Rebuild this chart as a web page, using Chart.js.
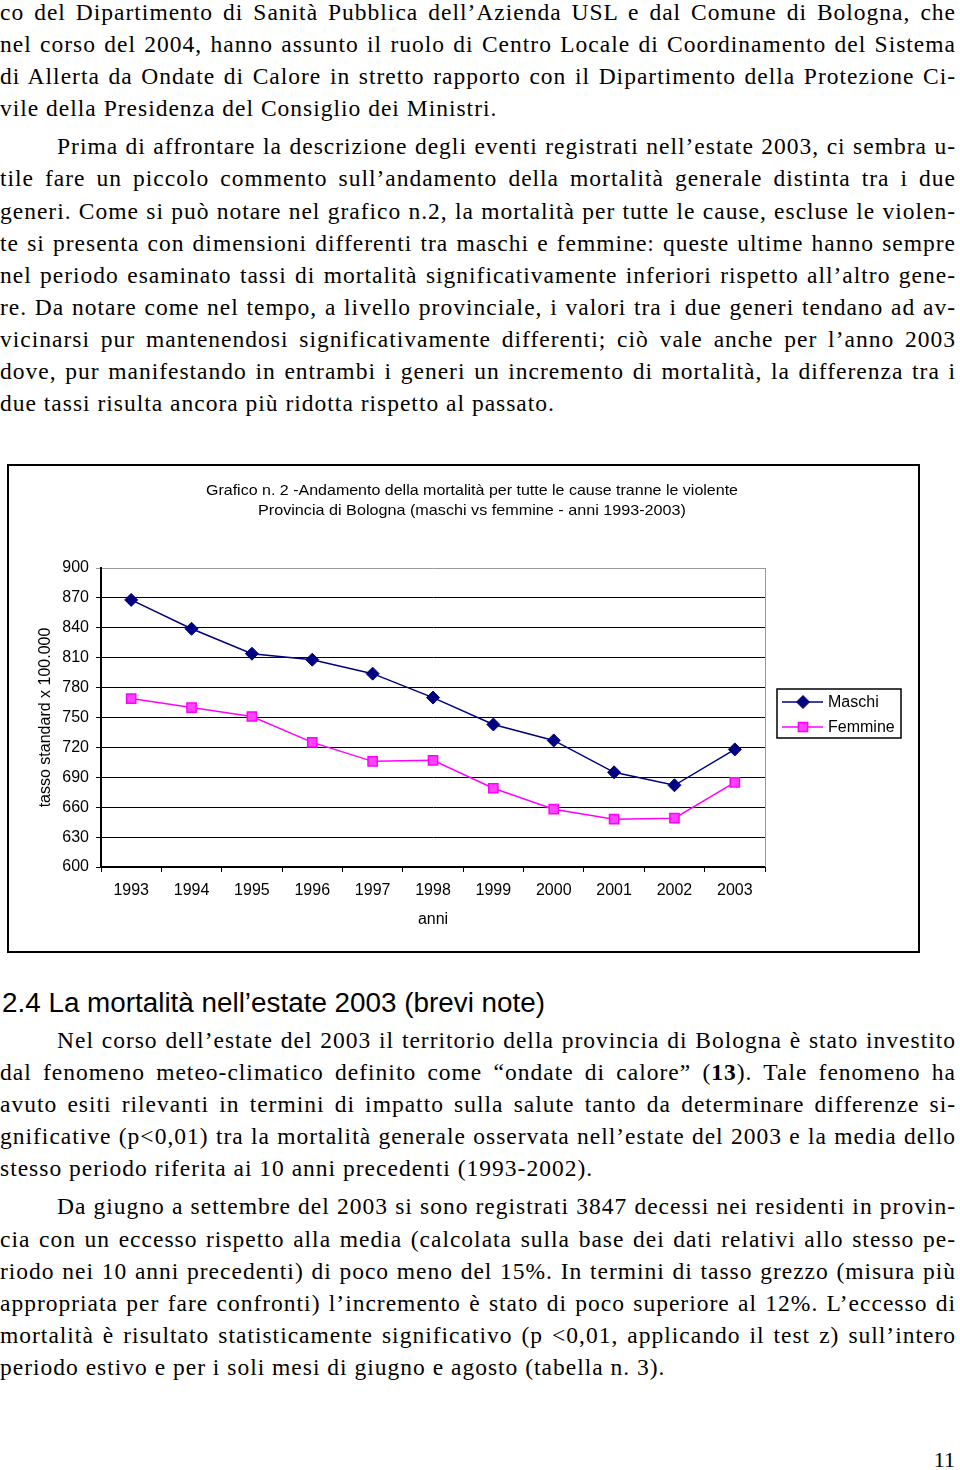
<!DOCTYPE html>
<html lang="it">
<head>
<meta charset="utf-8">
<title>Grafico n. 2 - mortalità maschi vs femmine</title>
<script src="https://cdn.jsdelivr.net/npm/chart.js@4.4.0/dist/chart.umd.min.js"></script>
<style>
  html, body { margin: 0; padding: 0; background: #fff; }
  body { width: 960px; height: 1470px; position: relative; overflow: hidden;
         font-family: "Liberation Serif", serif; font-size: 23.5px; color: #000; }
  .blk { position: absolute; left: 0; width: 956px; line-height: 32.1px; letter-spacing: 1px; }
  .l { text-align: justify; text-align-last: justify; }
  .last { text-align-last: left; }
  .ind { padding-left: 57px; }
  .gap { margin-top: 6px; }
  .misura { position: absolute; visibility: hidden; white-space: nowrap; }
  .sans { position: absolute; font-family: "Liberation Sans", Arial, sans-serif;
          white-space: nowrap; transform-origin: left center; display: inline-block; }
  #cornice { position: absolute; left: 7px; top: 464px; width: 913px; height: 489px;
             border: 2px solid #000; box-sizing: border-box; }
  #grafico { position: absolute; left: 0; top: 0; }
  #pag { position: absolute; right: 5px; top: 1446px; font-size: 22px; line-height: 28px; }
</style>
</head>
<body>

<div class="blk" style="top:-4px">
  <div class="l">co del Dipartimento di Sanità Pubblica dell’Azienda USL e dal Comune di Bologna, che</div>
  <div class="l">nel corso del 2004, hanno assunto il ruolo di Centro Locale di Coordinamento del Sistema</div>
  <div class="l">di Allerta da Ondate di Calore in stretto rapporto con il Dipartimento della Protezione Ci-</div>
  <div class="l last">vile della Presidenza del Consiglio dei Ministri.</div>
  <div class="l ind gap">Prima di affrontare la descrizione degli eventi registrati nell’estate 2003, ci sembra u-</div>
  <div class="l">tile fare un piccolo commento sull’andamento della mortalità generale distinta tra i due</div>
  <div class="l">generi. Come si può notare nel grafico n.2, la mortalità per tutte le cause, escluse le violen-</div>
  <div class="l">te si presenta con dimensioni differenti tra maschi e femmine: queste ultime hanno sempre</div>
  <div class="l">nel periodo esaminato tassi di mortalità significativamente inferiori rispetto all’altro gene-</div>
  <div class="l">re. Da notare come nel tempo, a livello provinciale, i valori tra i due generi tendano ad av-</div>
  <div class="l">vicinarsi pur mantenendosi significativamente differenti; ciò vale anche per l’anno 2003</div>
  <div class="l">dove, pur manifestando in entrambi i generi un incremento di mortalità, la differenza tra i</div>
  <div class="l last">due tassi risulta ancora più ridotta rispetto al passato.</div>
  <span class="misura"></span>
</div>

<div id="cornice">
  <canvas id="grafico" width="909" height="485"></canvas>
</div>
<span class="sans" data-w="532" style="left:206px; top:480px; font-size:15px; line-height:20px;">Grafico n. 2 -Andamento della mortalità per tutte le cause tranne le violente</span>
<span class="sans" data-w="428" style="left:258px; top:500px; font-size:15px; line-height:20px;">Provincia di Bologna (maschi vs femmine - anni 1993-2003)</span>

<span class="sans" data-w="543" style="left:2px; top:987px; font-size:27px; line-height:32px;">2.4 La mortalità nell’estate 2003 (brevi note)</span>

<div class="blk" style="top:1024px">
  <div class="l ind">Nel corso dell’estate del 2003 il territorio della provincia di Bologna è stato investito</div>
  <div class="l">dal fenomeno meteo-climatico definito come “ondate di calore” (<b>13</b>). Tale fenomeno ha</div>
  <div class="l">avuto esiti rilevanti in termini di impatto sulla salute tanto da determinare differenze si-</div>
  <div class="l">gnificative (p&lt;0,01) tra la mortalità generale osservata nell’estate del 2003 e la media dello</div>
  <div class="l last">stesso periodo riferita ai 10 anni precedenti (1993-2002).</div>
  <div class="l ind gap">Da giugno a settembre del 2003 si sono registrati 3847 decessi nei residenti in provin-</div>
  <div class="l">cia con un eccesso rispetto alla media (calcolata sulla base dei dati relativi allo stesso pe-</div>
  <div class="l">riodo nei 10 anni precedenti) di poco meno del 15%. In termini di tasso grezzo (misura più</div>
  <div class="l">appropriata per fare confronti) l’incremento è stato di poco superiore al 12%. L’eccesso di</div>
  <div class="l">mortalità è risultato statisticamente significativo (p &lt;0,01, applicando il test z) sull’intero</div>
  <div class="l last">periodo estivo e per i soli mesi di giugno e agosto (tabella n. 3).</div>
  <span class="misura"></span>
</div>

<div id="pag">11</div>

<script>
const anni = ['1993', '1994', '1995', '1996', '1997', '1998', '1999', '2000', '2001', '2002', '2003'];
const maschi = [868, 839, 814, 808, 794, 770, 743, 727, 695, 682, 718];
const femmine = [769, 760, 751, 725, 706, 707, 679, 658, 648, 649, 685];
const yMin = 600;
const yMax = 900;
const yPasso = 30;

// le righe troppo lunghe perdono un po' di spaziatura, cosi' non vanno a capo
document.querySelectorAll('.blk').forEach((blocco) => {
    const misura = blocco.querySelector('.misura');
    blocco.querySelectorAll('.l').forEach((riga) => {
        misura.innerHTML = riga.innerHTML;
        const libero = riga.clientWidth - parseFloat(getComputedStyle(riga).paddingLeft) - 3;
        const w = misura.getBoundingClientRect().width;
        if (w > libero) {
            const n = riga.textContent.trim().length;
            riga.style.letterSpacing = (1 - (w - libero) / n) + 'px';
        }
    });
    misura.innerHTML = '';
});

// stringo i titoli in sans alla larghezza dell'originale
document.querySelectorAll('[data-w]').forEach((el) => {
    const w = el.getBoundingClientRect().width;
    el.style.transform = `scaleX(${el.dataset.w / w})`;
});

const font16 = { family: 'Liberation Sans', size: 16 };

// bordo grigio a destra dell'area del grafico
const bordoDestro = {
    id: 'bordoDestro',
    beforeDatasetsDraw(chart) {
        const { ctx, chartArea } = chart;
        ctx.save();
        ctx.strokeStyle = '#999';
        ctx.lineWidth = 1;
        ctx.beginPath();
        ctx.moveTo(Math.round(chartArea.right) + 0.5, chartArea.top);
        ctx.lineTo(Math.round(chartArea.right) + 0.5, chartArea.bottom);
        ctx.stroke();
        ctx.restore();
    }
};

// legenda con riquadro come nell'originale
const legenda = {
    id: 'legenda',
    afterDraw(chart) {
        const ctx = chart.ctx;
        const x = chart.chartArea.right + 12;
        const y = 223;
        ctx.save();
        ctx.strokeStyle = '#000';
        ctx.lineWidth = 1.5;
        ctx.strokeRect(x, y, 124, 49);
        chart.data.datasets.forEach((ds, i) => {
            const cy = y + 13 + i * 25;
            ctx.strokeStyle = ds.borderColor;
            ctx.lineWidth = ds.borderWidth;
            ctx.beginPath();
            ctx.moveTo(x + 5, cy);
            ctx.lineTo(x + 46, cy);
            ctx.stroke();
            ctx.fillStyle = ds.backgroundColor;
            ctx.lineWidth = ds.pointBorderWidth;
            Chart.helpers.drawPoint(ctx, {
                pointStyle: ds.pointStyle,
                radius: ds.pointRadius,
                rotation: 0,
                borderWidth: ds.pointBorderWidth
            }, x + 26, cy);
            ctx.fillStyle = '#000';
            ctx.font = '16px "Liberation Sans"';
            ctx.textBaseline = 'middle';
            ctx.fillText(ds.label, x + 51, cy + 1);
        });
        ctx.restore();
    }
};

new Chart(document.getElementById('grafico'), {
    type: 'line',
    data: {
        labels: anni,
        datasets: [
            {
                label: 'Maschi',
                data: maschi,
                borderColor: '#000080',
                backgroundColor: '#000080',
                borderWidth: 1.5,
                pointStyle: 'rectRot',
                pointRadius: 6.5,
                pointBorderWidth: 1,
                tension: 0
            },
            {
                label: 'Femmine',
                data: femmine,
                borderColor: '#ff00ff',
                backgroundColor: '#ff44ff',
                borderWidth: 1.5,
                pointStyle: 'rect',
                pointRadius: 6.5,
                pointBorderWidth: 1.5,
                tension: 0
            }
        ]
    },
    options: {
        responsive: false,
        animation: false,
        layout: { padding: { top: 102, right: 153, left: 0, bottom: 0 } },
        plugins: {
            legend: { display: false },
            title: { display: false },
            tooltip: { enabled: false }
        },
        scales: {
            x: {
                offset: true,
                grid: { offset: true, drawOnChartArea: false, tickLength: 5, color: '#000' },
                border: { color: '#000', width: 2 },
                ticks: { color: '#000', font: font16, padding: 9, maxRotation: 0, autoSkip: false },
                title: { display: true, text: 'anni', color: '#000', font: font16, padding: { top: 0, bottom: 22 } },
                afterFit(scale) { scale.height = 84; }
            },
            y: {
                min: yMin,
                max: yMax,
                ticks: { stepSize: yPasso, color: '#000', font: font16, padding: 7 },
                grid: {
                    color: (c) => (c.tick && c.tick.value === yMax ? '#999' : '#000'),
                    tickLength: 5,
                    lineWidth: 1
                },
                border: { color: '#000', width: 2 },
                title: { display: true, text: 'tasso standard x 100.000', color: '#000', font: font16, padding: { top: 27, bottom: 0 } },
                afterFit(scale) { scale.width = 92; }
            }
        }
    },
    plugins: [bordoDestro, legenda]
});
</script>
</body>
</html>
